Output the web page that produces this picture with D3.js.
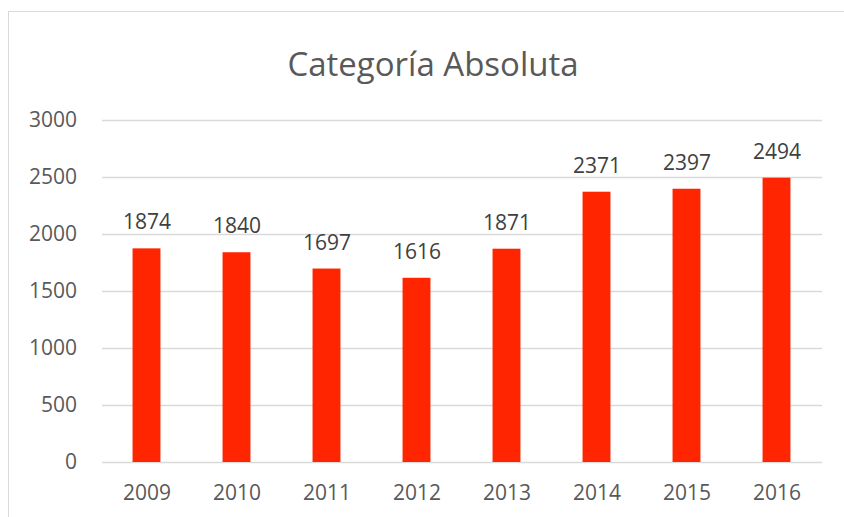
<!DOCTYPE html>
<html>
<head>
<meta charset="utf-8">
<script src="https://cdn.jsdelivr.net/npm/d3@7"></script>
<style>
  body { margin: 0; background: #fff; }
  svg { display: block; font-family: "Open Sans", sans-serif; }
</style>
</head>
<body>
<div id="chart"></div>
<script>
const years = ["2009", "2010", "2011", "2012", "2013", "2014", "2015", "2016"];
const values = [1874, 1840, 1697, 1616, 1871, 2371, 2397, 2494];
const yTicks = [0, 500, 1000, 1500, 2000, 2500, 3000];

const W = 844, H = 517;
const margin = { top: 120, right: 22, bottom: 55, left: 102 };

const svg = d3.select("#chart").append("svg")
    .attr("width", W)
    .attr("height", H);

// outer chart border
svg.append("rect")
    .attr("x", 8.5).attr("y", 11.5)
    .attr("width", 900).attr("height", 600)
    .attr("fill", "none")
    .attr("stroke", "#d9d9d9");

svg.append("text")
    .attr("x", 433)
    .attr("y", 76)
    .attr("text-anchor", "middle")
    .attr("fill", "#595959")
    .style("font-size", "33px")
    .text("Categoría Absoluta");

const x = d3.scaleBand()
    .domain(years)
    .range([margin.left, W - margin.right])
    .padding(0);

const y = d3.scaleLinear()
    .domain([0, 3000])
    .range([H - margin.bottom, margin.top]);

// gridlines + y labels
svg.append("g")
    .attr("transform", `translate(${margin.left},0)`)
    .call(d3.axisLeft(y).tickValues(yTicks).tickFormat(d3.format("d"))
        .tickSize(-(W - margin.left - margin.right))
        .tickPadding(25))
    .call(g => g.select(".domain").remove())
    .call(g => g.selectAll(".tick line").attr("stroke", "#d9d9d9").attr("stroke-width", 1.3))
    .call(g => g.selectAll(".tick text")
        .attr("fill", "#595959")
        .style("font-size", "21px")
        .style("font-family", "Open Sans"));

// x labels
svg.append("g")
    .attr("transform", `translate(0,${H - margin.bottom})`)
    .call(d3.axisBottom(x).tickSize(0).tickPadding(23))
    .call(g => g.select(".domain").remove())
    .call(g => g.selectAll(".tick text")
        .attr("fill", "#595959")
        .style("font-size", "21px")
        .style("font-family", "Open Sans"));

const barW = x.bandwidth() * 0.31;

svg.selectAll(".bar")
    .data(values)
    .enter().append("rect")
    .attr("class", "bar")
    .attr("x", (d, i) => x(years[i]) + x.bandwidth() / 2 - barW / 2 - 0.5)
    .attr("width", barW)
    .attr("y", d => y(d))
    .attr("height", d => y(0) - y(d))
    .attr("fill", "#ff2500");

svg.selectAll(".lbl")
    .data(values)
    .enter().append("text")
    .attr("class", "lbl")
    .attr("x", (d, i) => x(years[i]) + x.bandwidth() / 2)
    .attr("y", d => y(d) - 19)
    .attr("text-anchor", "middle")
    .attr("fill", "#404040")
    .style("font-size", "21px")
    .text(d => d);
</script>
</body>
</html>
